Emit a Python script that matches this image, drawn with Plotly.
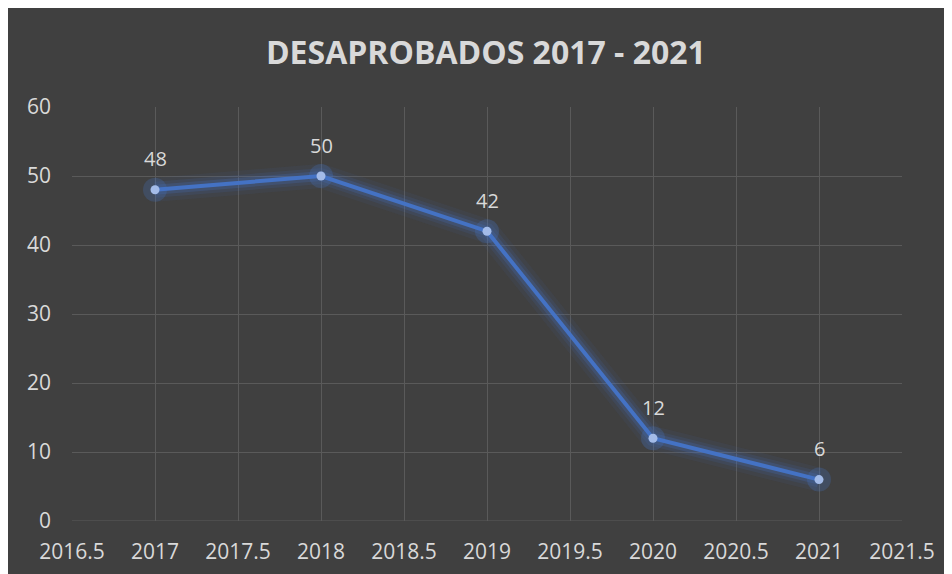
import plotly.graph_objects as go

years = [2017, 2018, 2019, 2020, 2021]
desaprobados = [48, 50, 42, 12, 6]
title_text = "DESAPROBADOS 2017 - 2021"

BG = "#404040"
GRID = "#5a5a5a"
TXT = "#d9d9d9"
BLUE = "#4472c4"

fig = go.Figure()
# glow layers
for w, a in [(24, 0.07), (16, 0.12), (10, 0.22)]:
    fig.add_trace(go.Scatter(x=years, y=desaprobados, mode="lines",
                             line=dict(color=f"rgba(68,114,196,{a})", width=w),
                             hoverinfo="skip", showlegend=False))
fig.add_trace(go.Scatter(x=years, y=desaprobados, mode="markers",
                         marker=dict(size=24, color="rgba(68,114,196,0.25)"),
                         hoverinfo="skip", showlegend=False))
fig.add_trace(go.Scatter(x=years, y=desaprobados, mode="lines+markers",
                         line=dict(color=BLUE, width=4),
                         marker=dict(size=9, color="#a3bbe8"),
                         showlegend=False))
for xv, yv in zip(years, desaprobados):
    fig.add_annotation(x=xv, y=yv, text=str(yv), showarrow=False,
                       yshift=31, font=dict(family="Open Sans", size=20, color=TXT))

fig.update_layout(
    width=952, height=574,
    paper_bgcolor=BG, plot_bgcolor=BG,
    margin=dict(l=64, r=58, t=99, b=61),
    title=dict(text="<b>" + title_text + "</b>", x=0.502, xanchor="center",
               y=0.922, yanchor="middle",
               font=dict(family="Open Sans", size=32, color=TXT)),
    font=dict(family="Open Sans", color=TXT, size=21),
    xaxis=dict(range=[2016.5, 2021.5], dtick=0.5, tick0=2016.5,
               tickformat=".1~f",
               showgrid=True, gridcolor=GRID, gridwidth=1,
               zeroline=False, showline=False, ticks="",
               tickfont=dict(size=21, color=TXT), ticklabelstandoff=16),
    yaxis=dict(range=[0, 60], dtick=10, showgrid=True, gridcolor=GRID,
               gridwidth=1, zeroline=False, showline=False, ticks="",
               tickfont=dict(size=21, color=TXT), ticklabelstandoff=20),
)
fig.add_shape(type="line", xref="x", yref="y", x0=2016.5, x1=2021.5, y0=0, y1=0,
              line=dict(color=GRID, width=1), layer="below")

fig.write_html("out.html")
